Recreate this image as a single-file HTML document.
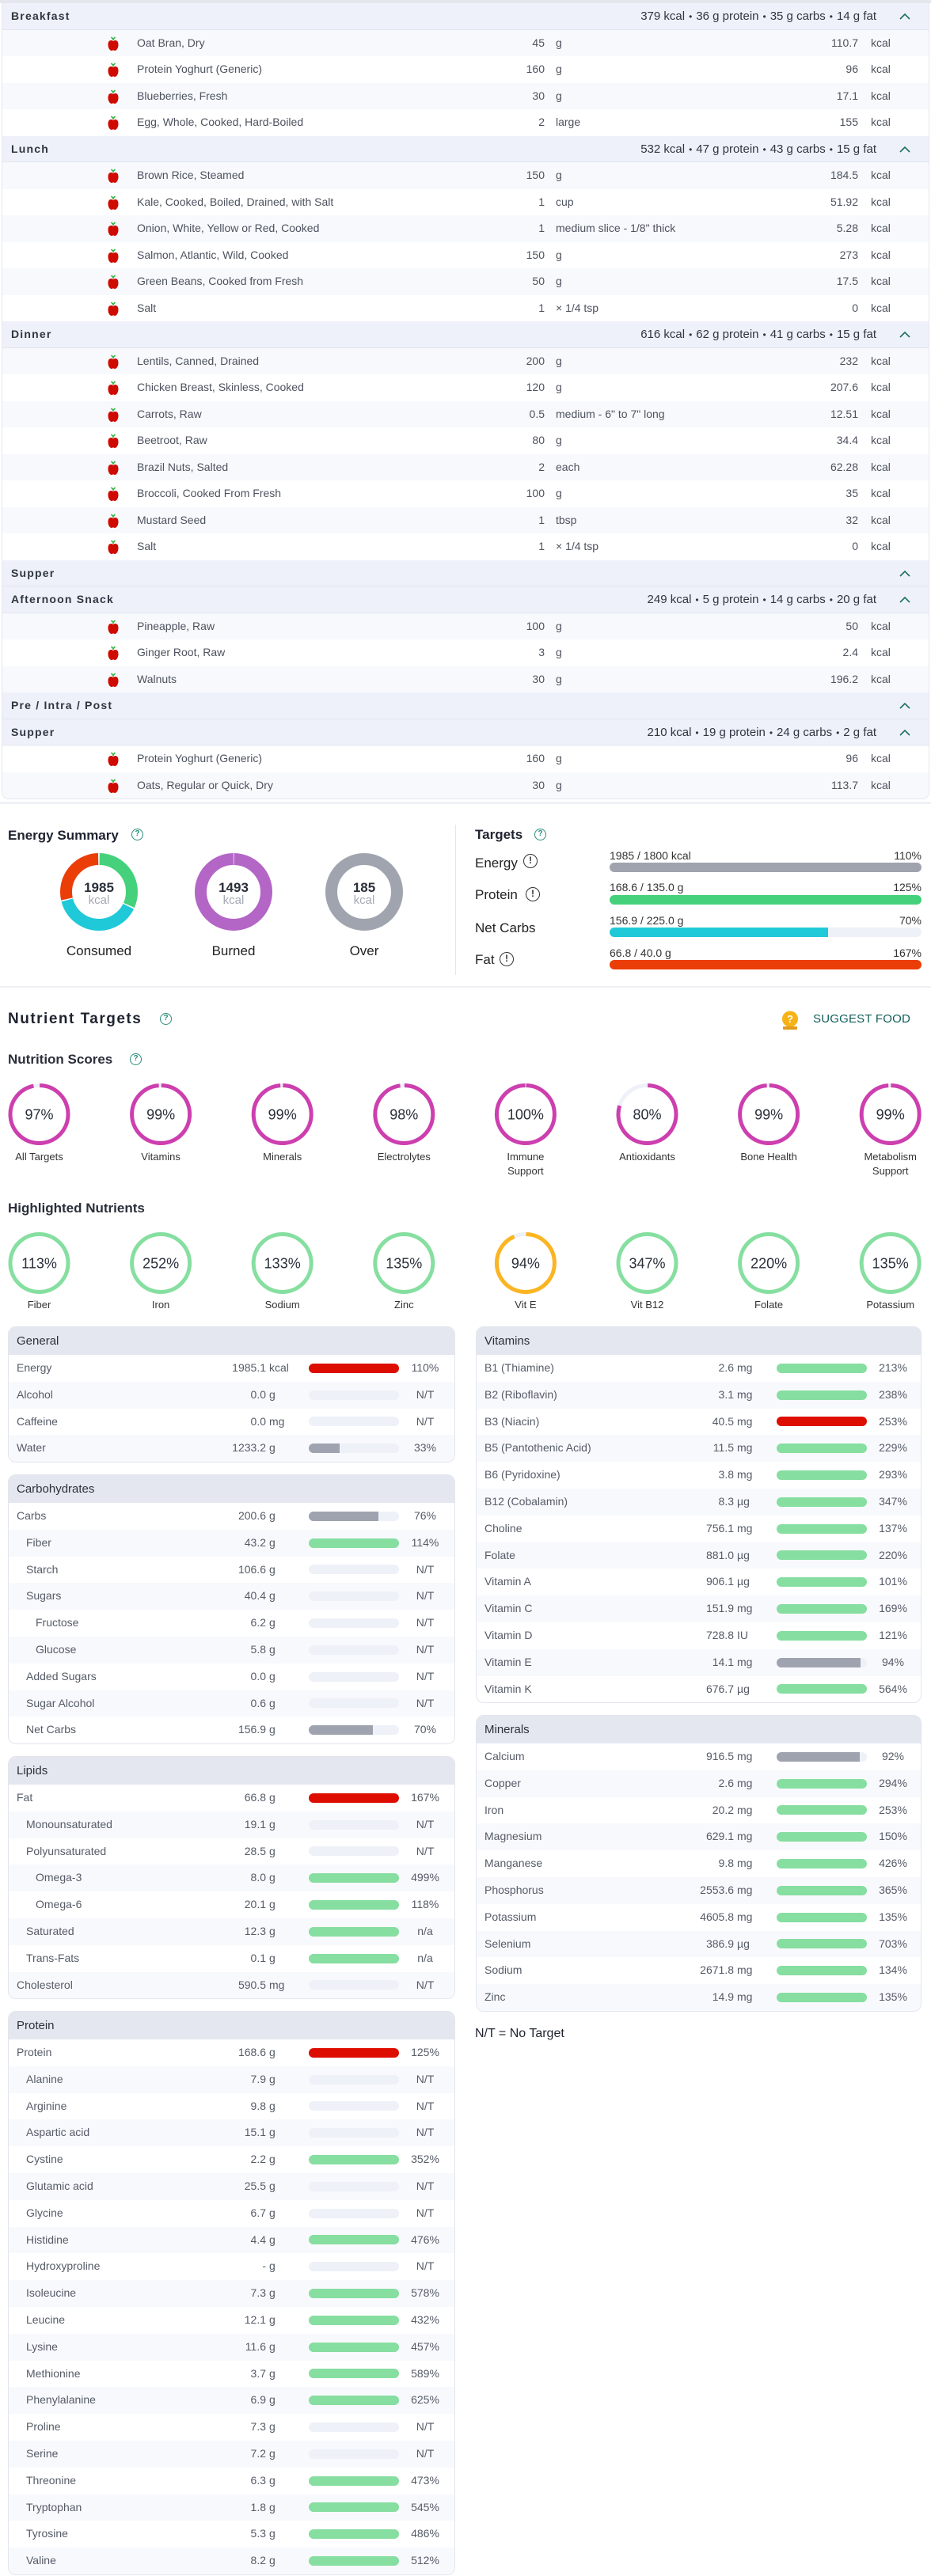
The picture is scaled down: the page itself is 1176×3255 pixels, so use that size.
<!DOCTYPE html>
<html><head><meta charset="utf-8"><style>
*{box-sizing:border-box}
body{margin:0;background:#fff}
#w{position:relative;width:1176px;height:3255px;overflow:hidden;background:#fff;font-family:"Liberation Sans",sans-serif;color:#2a2f3a}
.abs{position:absolute;white-space:nowrap}
.mc{position:absolute;left:3px;top:4px;width:1170px;border-radius:0 0 8px 8px;overflow:hidden;box-shadow:0 0 0 1px #e4e7ee}
.mh,.mi{position:relative;height:33.5px;line-height:33.5px;white-space:nowrap}
.mh{background:#eef1f9;box-shadow:inset 0 -1px 0 #e1e5ee}
.mi{background:#fff;font-size:14px;color:#4d525e}
.mi.t{background:#f7f9fd}
.mt{position:absolute;left:11px;font-weight:bold;font-size:14px;letter-spacing:1.2px;color:#2f3541}
.ms{position:absolute;right:66px;font-size:15px;color:#2f3541}
.ms b{font-weight:normal;margin:0 5px;font-size:12px}
.chev{position:absolute;left:1133px;top:12px}
.ap{position:absolute;left:132px;top:7px}
.nm{position:absolute;left:170px}
.q{position:absolute;left:585px;width:100px;text-align:right}
.u{position:absolute;left:699px}
.k{position:absolute;left:981px;width:100px;text-align:right}
.kc{position:absolute;left:1097px}
.qi{position:absolute;width:15px;height:15px;border:1.5px solid #2a8c7a;border-radius:50%;color:#2a8c7a;font-size:10px;line-height:12px;text-align:center;font-weight:bold}
.ei{position:absolute;width:18px;height:18px;border:1.5px solid #333;border-radius:50%;color:#333;font-size:12px;line-height:15px;text-align:center;font-weight:bold}
.tb{position:absolute;left:770px;width:394px;height:12px;border-radius:6px;background:#eef1f8;overflow:hidden}
.tb i{display:block;height:100%}
.card{position:absolute;border:1px solid #e2e5ed;border-radius:10px;overflow:hidden;background:#fff}
.ch{height:35px;line-height:35px;background:#e4e7f0;padding-left:10px;font-size:15px;color:#2b303b}
.r{position:relative;height:33.8px;line-height:33.8px;font-size:14px;color:#555b67;white-space:nowrap}
.r:nth-child(odd){background:#f8f9fd}
.n{position:absolute;left:10px}
.n1{left:22px}.n2{left:34px}
.v{position:absolute;left:225px;width:100px;text-align:right}
.un{position:absolute;left:329px}
.bar{position:absolute;left:379px;top:10.9px;width:114px;height:12px;border-radius:6px;background:#eef1f8;overflow:hidden}
.bar i{display:block;height:100%}
.p{position:absolute;left:501px;width:50px;text-align:center}
.sl{position:absolute;width:120px;text-align:center;font-size:13px;line-height:18px;color:#333}
</style></head><body><div id="w">

<div class="abs" style="left:0;top:0;width:1176px;height:4px;background:#e4e7ee"></div>
<div class="mc">
<div class="mh"><span class="mt">Breakfast</span><span class="ms">379 kcal<b>•</b>36 g protein<b>•</b>35 g carbs<b>•</b>14 g fat</span><svg class="chev" width="14" height="9" viewBox="0 0 14 9"><path d="M1 8L7 2L13 8" stroke="#1c6e62" stroke-width="1.6" fill="none"/></svg></div>
<div class="mi t"><svg class="ap" width="16" height="19" viewBox="0 0 16 19"><path d="M8 6V3M8 4.5L5.5 2M8 4.5L10.5 2" stroke="#3bb54a" stroke-width="1.6" fill="none"/><path d="M8 7C5 5 1.5 6 1.5 11.5C1.5 16 4 19 6 19C7 19 7.4 18.4 8 18.4C8.6 18.4 9 19 10 19C12 19 14.5 16 14.5 11.5C14.5 6 11 5 8 7Z" fill="#cf0a00"/></svg><span class="nm">Oat Bran, Dry</span><span class="q">45</span><span class="u">g</span><span class="k">110.7</span><span class="kc">kcal</span></div>
<div class="mi"><svg class="ap" width="16" height="19" viewBox="0 0 16 19"><path d="M8 6V3M8 4.5L5.5 2M8 4.5L10.5 2" stroke="#3bb54a" stroke-width="1.6" fill="none"/><path d="M8 7C5 5 1.5 6 1.5 11.5C1.5 16 4 19 6 19C7 19 7.4 18.4 8 18.4C8.6 18.4 9 19 10 19C12 19 14.5 16 14.5 11.5C14.5 6 11 5 8 7Z" fill="#cf0a00"/></svg><span class="nm">Protein Yoghurt (Generic)</span><span class="q">160</span><span class="u">g</span><span class="k">96</span><span class="kc">kcal</span></div>
<div class="mi t"><svg class="ap" width="16" height="19" viewBox="0 0 16 19"><path d="M8 6V3M8 4.5L5.5 2M8 4.5L10.5 2" stroke="#3bb54a" stroke-width="1.6" fill="none"/><path d="M8 7C5 5 1.5 6 1.5 11.5C1.5 16 4 19 6 19C7 19 7.4 18.4 8 18.4C8.6 18.4 9 19 10 19C12 19 14.5 16 14.5 11.5C14.5 6 11 5 8 7Z" fill="#cf0a00"/></svg><span class="nm">Blueberries, Fresh</span><span class="q">30</span><span class="u">g</span><span class="k">17.1</span><span class="kc">kcal</span></div>
<div class="mi"><svg class="ap" width="16" height="19" viewBox="0 0 16 19"><path d="M8 6V3M8 4.5L5.5 2M8 4.5L10.5 2" stroke="#3bb54a" stroke-width="1.6" fill="none"/><path d="M8 7C5 5 1.5 6 1.5 11.5C1.5 16 4 19 6 19C7 19 7.4 18.4 8 18.4C8.6 18.4 9 19 10 19C12 19 14.5 16 14.5 11.5C14.5 6 11 5 8 7Z" fill="#cf0a00"/></svg><span class="nm">Egg, Whole, Cooked, Hard-Boiled</span><span class="q">2</span><span class="u">large</span><span class="k">155</span><span class="kc">kcal</span></div>

<div class="mh"><span class="mt">Lunch</span><span class="ms">532 kcal<b>•</b>47 g protein<b>•</b>43 g carbs<b>•</b>15 g fat</span><svg class="chev" width="14" height="9" viewBox="0 0 14 9"><path d="M1 8L7 2L13 8" stroke="#1c6e62" stroke-width="1.6" fill="none"/></svg></div>
<div class="mi t"><svg class="ap" width="16" height="19" viewBox="0 0 16 19"><path d="M8 6V3M8 4.5L5.5 2M8 4.5L10.5 2" stroke="#3bb54a" stroke-width="1.6" fill="none"/><path d="M8 7C5 5 1.5 6 1.5 11.5C1.5 16 4 19 6 19C7 19 7.4 18.4 8 18.4C8.6 18.4 9 19 10 19C12 19 14.5 16 14.5 11.5C14.5 6 11 5 8 7Z" fill="#cf0a00"/></svg><span class="nm">Brown Rice, Steamed</span><span class="q">150</span><span class="u">g</span><span class="k">184.5</span><span class="kc">kcal</span></div>
<div class="mi"><svg class="ap" width="16" height="19" viewBox="0 0 16 19"><path d="M8 6V3M8 4.5L5.5 2M8 4.5L10.5 2" stroke="#3bb54a" stroke-width="1.6" fill="none"/><path d="M8 7C5 5 1.5 6 1.5 11.5C1.5 16 4 19 6 19C7 19 7.4 18.4 8 18.4C8.6 18.4 9 19 10 19C12 19 14.5 16 14.5 11.5C14.5 6 11 5 8 7Z" fill="#cf0a00"/></svg><span class="nm">Kale, Cooked, Boiled, Drained, with Salt</span><span class="q">1</span><span class="u">cup</span><span class="k">51.92</span><span class="kc">kcal</span></div>
<div class="mi t"><svg class="ap" width="16" height="19" viewBox="0 0 16 19"><path d="M8 6V3M8 4.5L5.5 2M8 4.5L10.5 2" stroke="#3bb54a" stroke-width="1.6" fill="none"/><path d="M8 7C5 5 1.5 6 1.5 11.5C1.5 16 4 19 6 19C7 19 7.4 18.4 8 18.4C8.6 18.4 9 19 10 19C12 19 14.5 16 14.5 11.5C14.5 6 11 5 8 7Z" fill="#cf0a00"/></svg><span class="nm">Onion, White, Yellow or Red, Cooked</span><span class="q">1</span><span class="u">medium slice - 1/8" thick</span><span class="k">5.28</span><span class="kc">kcal</span></div>
<div class="mi"><svg class="ap" width="16" height="19" viewBox="0 0 16 19"><path d="M8 6V3M8 4.5L5.5 2M8 4.5L10.5 2" stroke="#3bb54a" stroke-width="1.6" fill="none"/><path d="M8 7C5 5 1.5 6 1.5 11.5C1.5 16 4 19 6 19C7 19 7.4 18.4 8 18.4C8.6 18.4 9 19 10 19C12 19 14.5 16 14.5 11.5C14.5 6 11 5 8 7Z" fill="#cf0a00"/></svg><span class="nm">Salmon, Atlantic, Wild, Cooked</span><span class="q">150</span><span class="u">g</span><span class="k">273</span><span class="kc">kcal</span></div>
<div class="mi t"><svg class="ap" width="16" height="19" viewBox="0 0 16 19"><path d="M8 6V3M8 4.5L5.5 2M8 4.5L10.5 2" stroke="#3bb54a" stroke-width="1.6" fill="none"/><path d="M8 7C5 5 1.5 6 1.5 11.5C1.5 16 4 19 6 19C7 19 7.4 18.4 8 18.4C8.6 18.4 9 19 10 19C12 19 14.5 16 14.5 11.5C14.5 6 11 5 8 7Z" fill="#cf0a00"/></svg><span class="nm">Green Beans, Cooked from Fresh</span><span class="q">50</span><span class="u">g</span><span class="k">17.5</span><span class="kc">kcal</span></div>
<div class="mi"><svg class="ap" width="16" height="19" viewBox="0 0 16 19"><path d="M8 6V3M8 4.5L5.5 2M8 4.5L10.5 2" stroke="#3bb54a" stroke-width="1.6" fill="none"/><path d="M8 7C5 5 1.5 6 1.5 11.5C1.5 16 4 19 6 19C7 19 7.4 18.4 8 18.4C8.6 18.4 9 19 10 19C12 19 14.5 16 14.5 11.5C14.5 6 11 5 8 7Z" fill="#cf0a00"/></svg><span class="nm">Salt</span><span class="q">1</span><span class="u">× 1/4 tsp</span><span class="k">0</span><span class="kc">kcal</span></div>

<div class="mh"><span class="mt">Dinner</span><span class="ms">616 kcal<b>•</b>62 g protein<b>•</b>41 g carbs<b>•</b>15 g fat</span><svg class="chev" width="14" height="9" viewBox="0 0 14 9"><path d="M1 8L7 2L13 8" stroke="#1c6e62" stroke-width="1.6" fill="none"/></svg></div>
<div class="mi t"><svg class="ap" width="16" height="19" viewBox="0 0 16 19"><path d="M8 6V3M8 4.5L5.5 2M8 4.5L10.5 2" stroke="#3bb54a" stroke-width="1.6" fill="none"/><path d="M8 7C5 5 1.5 6 1.5 11.5C1.5 16 4 19 6 19C7 19 7.4 18.4 8 18.4C8.6 18.4 9 19 10 19C12 19 14.5 16 14.5 11.5C14.5 6 11 5 8 7Z" fill="#cf0a00"/></svg><span class="nm">Lentils, Canned, Drained</span><span class="q">200</span><span class="u">g</span><span class="k">232</span><span class="kc">kcal</span></div>
<div class="mi"><svg class="ap" width="16" height="19" viewBox="0 0 16 19"><path d="M8 6V3M8 4.5L5.5 2M8 4.5L10.5 2" stroke="#3bb54a" stroke-width="1.6" fill="none"/><path d="M8 7C5 5 1.5 6 1.5 11.5C1.5 16 4 19 6 19C7 19 7.4 18.4 8 18.4C8.6 18.4 9 19 10 19C12 19 14.5 16 14.5 11.5C14.5 6 11 5 8 7Z" fill="#cf0a00"/></svg><span class="nm">Chicken Breast, Skinless, Cooked</span><span class="q">120</span><span class="u">g</span><span class="k">207.6</span><span class="kc">kcal</span></div>
<div class="mi t"><svg class="ap" width="16" height="19" viewBox="0 0 16 19"><path d="M8 6V3M8 4.5L5.5 2M8 4.5L10.5 2" stroke="#3bb54a" stroke-width="1.6" fill="none"/><path d="M8 7C5 5 1.5 6 1.5 11.5C1.5 16 4 19 6 19C7 19 7.4 18.4 8 18.4C8.6 18.4 9 19 10 19C12 19 14.5 16 14.5 11.5C14.5 6 11 5 8 7Z" fill="#cf0a00"/></svg><span class="nm">Carrots, Raw</span><span class="q">0.5</span><span class="u">medium - 6" to 7" long</span><span class="k">12.51</span><span class="kc">kcal</span></div>
<div class="mi"><svg class="ap" width="16" height="19" viewBox="0 0 16 19"><path d="M8 6V3M8 4.5L5.5 2M8 4.5L10.5 2" stroke="#3bb54a" stroke-width="1.6" fill="none"/><path d="M8 7C5 5 1.5 6 1.5 11.5C1.5 16 4 19 6 19C7 19 7.4 18.4 8 18.4C8.6 18.4 9 19 10 19C12 19 14.5 16 14.5 11.5C14.5 6 11 5 8 7Z" fill="#cf0a00"/></svg><span class="nm">Beetroot, Raw</span><span class="q">80</span><span class="u">g</span><span class="k">34.4</span><span class="kc">kcal</span></div>
<div class="mi t"><svg class="ap" width="16" height="19" viewBox="0 0 16 19"><path d="M8 6V3M8 4.5L5.5 2M8 4.5L10.5 2" stroke="#3bb54a" stroke-width="1.6" fill="none"/><path d="M8 7C5 5 1.5 6 1.5 11.5C1.5 16 4 19 6 19C7 19 7.4 18.4 8 18.4C8.6 18.4 9 19 10 19C12 19 14.5 16 14.5 11.5C14.5 6 11 5 8 7Z" fill="#cf0a00"/></svg><span class="nm">Brazil Nuts, Salted</span><span class="q">2</span><span class="u">each</span><span class="k">62.28</span><span class="kc">kcal</span></div>
<div class="mi"><svg class="ap" width="16" height="19" viewBox="0 0 16 19"><path d="M8 6V3M8 4.5L5.5 2M8 4.5L10.5 2" stroke="#3bb54a" stroke-width="1.6" fill="none"/><path d="M8 7C5 5 1.5 6 1.5 11.5C1.5 16 4 19 6 19C7 19 7.4 18.4 8 18.4C8.6 18.4 9 19 10 19C12 19 14.5 16 14.5 11.5C14.5 6 11 5 8 7Z" fill="#cf0a00"/></svg><span class="nm">Broccoli, Cooked From Fresh</span><span class="q">100</span><span class="u">g</span><span class="k">35</span><span class="kc">kcal</span></div>
<div class="mi t"><svg class="ap" width="16" height="19" viewBox="0 0 16 19"><path d="M8 6V3M8 4.5L5.5 2M8 4.5L10.5 2" stroke="#3bb54a" stroke-width="1.6" fill="none"/><path d="M8 7C5 5 1.5 6 1.5 11.5C1.5 16 4 19 6 19C7 19 7.4 18.4 8 18.4C8.6 18.4 9 19 10 19C12 19 14.5 16 14.5 11.5C14.5 6 11 5 8 7Z" fill="#cf0a00"/></svg><span class="nm">Mustard Seed</span><span class="q">1</span><span class="u">tbsp</span><span class="k">32</span><span class="kc">kcal</span></div>
<div class="mi"><svg class="ap" width="16" height="19" viewBox="0 0 16 19"><path d="M8 6V3M8 4.5L5.5 2M8 4.5L10.5 2" stroke="#3bb54a" stroke-width="1.6" fill="none"/><path d="M8 7C5 5 1.5 6 1.5 11.5C1.5 16 4 19 6 19C7 19 7.4 18.4 8 18.4C8.6 18.4 9 19 10 19C12 19 14.5 16 14.5 11.5C14.5 6 11 5 8 7Z" fill="#cf0a00"/></svg><span class="nm">Salt</span><span class="q">1</span><span class="u">× 1/4 tsp</span><span class="k">0</span><span class="kc">kcal</span></div>

<div class="mh"><span class="mt">Supper</span><svg class="chev" width="14" height="9" viewBox="0 0 14 9"><path d="M1 8L7 2L13 8" stroke="#1c6e62" stroke-width="1.6" fill="none"/></svg></div>
<div class="mh"><span class="mt">Afternoon Snack</span><span class="ms">249 kcal<b>•</b>5 g protein<b>•</b>14 g carbs<b>•</b>20 g fat</span><svg class="chev" width="14" height="9" viewBox="0 0 14 9"><path d="M1 8L7 2L13 8" stroke="#1c6e62" stroke-width="1.6" fill="none"/></svg></div>
<div class="mi t"><svg class="ap" width="16" height="19" viewBox="0 0 16 19"><path d="M8 6V3M8 4.5L5.5 2M8 4.5L10.5 2" stroke="#3bb54a" stroke-width="1.6" fill="none"/><path d="M8 7C5 5 1.5 6 1.5 11.5C1.5 16 4 19 6 19C7 19 7.4 18.4 8 18.4C8.6 18.4 9 19 10 19C12 19 14.5 16 14.5 11.5C14.5 6 11 5 8 7Z" fill="#cf0a00"/></svg><span class="nm">Pineapple, Raw</span><span class="q">100</span><span class="u">g</span><span class="k">50</span><span class="kc">kcal</span></div>
<div class="mi"><svg class="ap" width="16" height="19" viewBox="0 0 16 19"><path d="M8 6V3M8 4.5L5.5 2M8 4.5L10.5 2" stroke="#3bb54a" stroke-width="1.6" fill="none"/><path d="M8 7C5 5 1.5 6 1.5 11.5C1.5 16 4 19 6 19C7 19 7.4 18.4 8 18.4C8.6 18.4 9 19 10 19C12 19 14.5 16 14.5 11.5C14.5 6 11 5 8 7Z" fill="#cf0a00"/></svg><span class="nm">Ginger Root, Raw</span><span class="q">3</span><span class="u">g</span><span class="k">2.4</span><span class="kc">kcal</span></div>
<div class="mi t"><svg class="ap" width="16" height="19" viewBox="0 0 16 19"><path d="M8 6V3M8 4.5L5.5 2M8 4.5L10.5 2" stroke="#3bb54a" stroke-width="1.6" fill="none"/><path d="M8 7C5 5 1.5 6 1.5 11.5C1.5 16 4 19 6 19C7 19 7.4 18.4 8 18.4C8.6 18.4 9 19 10 19C12 19 14.5 16 14.5 11.5C14.5 6 11 5 8 7Z" fill="#cf0a00"/></svg><span class="nm">Walnuts</span><span class="q">30</span><span class="u">g</span><span class="k">196.2</span><span class="kc">kcal</span></div>
<div class="mh"><span class="mt">Pre / Intra / Post</span><svg class="chev" width="14" height="9" viewBox="0 0 14 9"><path d="M1 8L7 2L13 8" stroke="#1c6e62" stroke-width="1.6" fill="none"/></svg></div>
<div class="mh"><span class="mt">Supper</span><span class="ms">210 kcal<b>•</b>19 g protein<b>•</b>24 g carbs<b>•</b>2 g fat</span><svg class="chev" width="14" height="9" viewBox="0 0 14 9"><path d="M1 8L7 2L13 8" stroke="#1c6e62" stroke-width="1.6" fill="none"/></svg></div>
<div class="mi"><svg class="ap" width="16" height="19" viewBox="0 0 16 19"><path d="M8 6V3M8 4.5L5.5 2M8 4.5L10.5 2" stroke="#3bb54a" stroke-width="1.6" fill="none"/><path d="M8 7C5 5 1.5 6 1.5 11.5C1.5 16 4 19 6 19C7 19 7.4 18.4 8 18.4C8.6 18.4 9 19 10 19C12 19 14.5 16 14.5 11.5C14.5 6 11 5 8 7Z" fill="#cf0a00"/></svg><span class="nm">Protein Yoghurt (Generic)</span><span class="q">160</span><span class="u">g</span><span class="k">96</span><span class="kc">kcal</span></div>
<div class="mi t"><svg class="ap" width="16" height="19" viewBox="0 0 16 19"><path d="M8 6V3M8 4.5L5.5 2M8 4.5L10.5 2" stroke="#3bb54a" stroke-width="1.6" fill="none"/><path d="M8 7C5 5 1.5 6 1.5 11.5C1.5 16 4 19 6 19C7 19 7.4 18.4 8 18.4C8.6 18.4 9 19 10 19C12 19 14.5 16 14.5 11.5C14.5 6 11 5 8 7Z" fill="#cf0a00"/></svg><span class="nm">Oats, Regular or Quick, Dry</span><span class="q">30</span><span class="u">g</span><span class="k">113.7</span><span class="kc">kcal</span></div>
</div>
<div class="abs" style="left:0;top:1013px;width:1176px;height:3px;background:#eff1f6"></div>

<!-- Energy summary -->
<div class="abs" style="left:10px;top:1044px;font-size:17px;line-height:24px;font-weight:bold;color:#1e2330">Energy Summary</div>
<div class="qi" style="left:166px;top:1047px">?</div>
<svg class="abs" style="left:75px;top:1077px" width="100" height="100" viewBox="0 0 100 100"><g transform="rotate(-90 50 50)" fill="none" stroke-width="15">
<circle cx="50" cy="50" r="41.5" stroke="#45d17b" stroke-dasharray="81.8 300" stroke-dashoffset="-0.72"/>
<circle cx="50" cy="50" r="41.5" stroke="#1fc9d8" stroke-dasharray="100.7 300" stroke-dashoffset="-84.0"/>
<circle cx="50" cy="50" r="41.5" stroke="#eb3d08" stroke-dasharray="73.2 300" stroke-dashoffset="-186.2"/></g></svg>
<svg class="abs" style="left:245px;top:1077px" width="100" height="100" viewBox="0 0 100 100"><g transform="rotate(-90 50 50)" fill="none" stroke-width="15">
<circle cx="50" cy="50" r="41.5" stroke="#b366c6" stroke-dasharray="259.6 300" stroke-dashoffset="-0.6"/></g></svg>
<svg class="abs" style="left:410px;top:1077px" width="100" height="100" viewBox="0 0 100 100"><circle cx="50" cy="50" r="41.5" fill="none" stroke="#a0a4ae" stroke-width="15"/></svg>
<div class="abs" style="left:75px;width:100px;text-align:center;top:1112px;font-size:17px;line-height:20px;font-weight:bold;color:#2a2f3a">1985</div>
<div class="abs" style="left:75px;width:100px;text-align:center;top:1129px;font-size:15px;line-height:18px;color:#a5a9b4">kcal</div>
<div class="abs" style="left:245px;width:100px;text-align:center;top:1112px;font-size:17px;line-height:20px;font-weight:bold;color:#2a2f3a">1493</div>
<div class="abs" style="left:245px;width:100px;text-align:center;top:1129px;font-size:15px;line-height:18px;color:#a5a9b4">kcal</div>
<div class="abs" style="left:410px;width:100px;text-align:center;top:1112px;font-size:17px;line-height:20px;font-weight:bold;color:#2a2f3a">185</div>
<div class="abs" style="left:410px;width:100px;text-align:center;top:1129px;font-size:15px;line-height:18px;color:#a5a9b4">kcal</div>
<div class="abs" style="left:65px;width:120px;text-align:center;top:1191px;font-size:17px;line-height:22px;color:#222">Consumed</div>
<div class="abs" style="left:235px;width:120px;text-align:center;top:1191px;font-size:17px;line-height:22px;color:#222">Burned</div>
<div class="abs" style="left:400px;width:120px;text-align:center;top:1191px;font-size:17px;line-height:22px;color:#222">Over</div>
<div class="abs" style="left:575px;top:1042px;width:1px;height:190px;background:#e3e6ec"></div>

<div class="abs" style="left:600px;top:1043px;font-size:17px;line-height:24px;font-weight:bold;color:#1e2330">Targets</div>
<div class="qi" style="left:675px;top:1047px">?</div>
<div class="abs" style="left:600px;top:1080px;font-size:17px;line-height:22px;color:#222">Energy</div>
<div class="ei" style="left:661px;top:1079px">!</div>
<div class="abs" style="left:600px;top:1120px;font-size:17px;line-height:22px;color:#222">Protein</div>
<div class="ei" style="left:664px;top:1121px">!</div>
<div class="abs" style="left:600px;top:1162px;font-size:17px;line-height:22px;color:#222">Net Carbs</div>
<div class="abs" style="left:600px;top:1202px;font-size:17px;line-height:22px;color:#222">Fat</div>
<div class="ei" style="left:631px;top:1203px">!</div>
<div class="abs" style="left:770px;top:1072px;font-size:14px;line-height:18px;color:#333">1985 / 1800 kcal</div>
<div class="abs" style="left:1064px;width:100px;text-align:right;top:1072px;font-size:14px;line-height:18px;color:#333">110%</div>
<div class="tb" style="top:1090px"><i style="width:100%;background:#9fa3ad"></i></div>
<div class="abs" style="left:770px;top:1112px;font-size:14px;line-height:18px;color:#333">168.6 / 135.0 g</div>
<div class="abs" style="left:1064px;width:100px;text-align:right;top:1112px;font-size:14px;line-height:18px;color:#333">125%</div>
<div class="tb" style="top:1131px"><i style="width:100%;background:#45d17b"></i></div>
<div class="abs" style="left:770px;top:1154px;font-size:14px;line-height:18px;color:#333">156.9 / 225.0 g</div>
<div class="abs" style="left:1064px;width:100px;text-align:right;top:1154px;font-size:14px;line-height:18px;color:#333">70%</div>
<div class="tb" style="top:1172px"><i style="width:70%;background:#1fc9d8"></i></div>
<div class="abs" style="left:770px;top:1195px;font-size:14px;line-height:18px;color:#333">66.8 / 40.0 g</div>
<div class="abs" style="left:1064px;width:100px;text-align:right;top:1195px;font-size:14px;line-height:18px;color:#333">167%</div>
<div class="tb" style="top:1213px"><i style="width:100%;background:#eb3d08"></i></div>
<div class="abs" style="left:0;top:1246px;width:1176px;height:2px;background:#eef0f6"></div>

<!-- Nutrient targets -->
<div class="abs" style="left:10px;top:1275px;font-size:19px;line-height:26px;font-weight:bold;letter-spacing:1.5px;color:#1e2330">Nutrient Targets</div>
<div class="qi" style="left:202px;top:1280px">?</div>
<svg class="abs" style="left:986px;top:1277px" width="24" height="25" viewBox="0 0 24 25"><circle cx="12" cy="10.5" r="10" fill="#f7b215"/><rect x="3" y="20" width="18" height="4" rx="1" fill="#e39a1e"/><text x="12" y="15" text-anchor="middle" font-size="13" font-weight="bold" fill="#fff" font-family="Liberation Sans, sans-serif">?</text></svg>
<div class="abs" style="left:1027px;top:1278px;font-size:15px;line-height:20px;color:#0f5e5a;letter-spacing:0.2px">SUGGEST FOOD</div>

<div class="abs" style="left:10px;top:1327px;font-size:17px;line-height:24px;font-weight:bold;color:#2a2f3a">Nutrition Scores</div>
<div class="qi" style="left:164px;top:1331px">?</div>

<svg class="abs" style="left:0;top:1360px" width="1176" height="100" viewBox="0 0 1176 100" font-family="Liberation Sans, sans-serif">
<g fill="none" stroke-width="5">
<circle cx="49.5" cy="48" r="36.5" stroke="#eef1f8"/><circle cx="203.1" cy="48" r="36.5" stroke="#eef1f8"/><circle cx="356.7" cy="48" r="36.5" stroke="#eef1f8"/><circle cx="510.3" cy="48" r="36.5" stroke="#eef1f8"/><circle cx="663.9" cy="48" r="36.5" stroke="#eef1f8"/><circle cx="817.5" cy="48" r="36.5" stroke="#eef1f8"/><circle cx="971.1" cy="48" r="36.5" stroke="#eef1f8"/><circle cx="1124.7" cy="48" r="36.5" stroke="#eef1f8"/>
<circle cx="49.5" cy="48" r="36.5" stroke="#cd3fae" stroke-dasharray="221.2 300" stroke-dashoffset="-0.64" transform="rotate(-90 49.5 48)"/>
<circle cx="203.1" cy="48" r="36.5" stroke="#cd3fae" stroke-dasharray="225.8 300" stroke-dashoffset="-0.64" transform="rotate(-90 203.1 48)"/>
<circle cx="356.7" cy="48" r="36.5" stroke="#cd3fae" stroke-dasharray="225.8 300" stroke-dashoffset="-0.64" transform="rotate(-90 356.7 48)"/>
<circle cx="510.3" cy="48" r="36.5" stroke="#cd3fae" stroke-dasharray="223.5 300" stroke-dashoffset="-0.64" transform="rotate(-90 510.3 48)"/>
<circle cx="663.9" cy="48" r="36.5" stroke="#cd3fae" stroke-dasharray="228.0 300" stroke-dashoffset="-0.64" transform="rotate(-90 663.9 48)"/>
<circle cx="817.5" cy="48" r="36.5" stroke="#cd3fae" stroke-dasharray="182.2 300" stroke-dashoffset="-0.64" transform="rotate(-90 817.5 48)"/>
<circle cx="971.1" cy="48" r="36.5" stroke="#cd3fae" stroke-dasharray="225.8 300" stroke-dashoffset="-0.64" transform="rotate(-90 971.1 48)"/>
<circle cx="1124.7" cy="48" r="36.5" stroke="#cd3fae" stroke-dasharray="225.8 300" stroke-dashoffset="-0.64" transform="rotate(-90 1124.7 48)"/>
</g>
<g font-size="18" fill="#2a2f3a" text-anchor="middle">
<text x="49.5" y="54.5">97%</text><text x="203.1" y="54.5">99%</text><text x="356.7" y="54.5">99%</text><text x="510.3" y="54.5">98%</text><text x="663.9" y="54.5">100%</text><text x="817.5" y="54.5">80%</text><text x="971.1" y="54.5">99%</text><text x="1124.7" y="54.5">99%</text>
</g></svg>
<div class="sl" style="left:-10.5px;top:1453px">All Targets</div>
<div class="sl" style="left:143.1px;top:1453px">Vitamins</div>
<div class="sl" style="left:296.7px;top:1453px">Minerals</div>
<div class="sl" style="left:450.3px;top:1453px">Electrolytes</div>
<div class="sl" style="left:603.9px;top:1453px">Immune<br>Support</div>
<div class="sl" style="left:757.5px;top:1453px">Antioxidants</div>
<div class="sl" style="left:911.1px;top:1453px">Bone Health</div>
<div class="sl" style="left:1064.7px;top:1453px">Metabolism<br>Support</div>

<div class="abs" style="left:10px;top:1515px;font-size:17px;line-height:24px;font-weight:bold;color:#2a2f3a">Highlighted Nutrients</div>
<svg class="abs" style="left:0;top:1548px" width="1176" height="100" viewBox="0 0 1176 100" font-family="Liberation Sans, sans-serif">
<g fill="none" stroke-width="5">
<circle cx="49.5" cy="48" r="36.5" stroke="#86dfa0"/><circle cx="203.1" cy="48" r="36.5" stroke="#86dfa0"/><circle cx="356.7" cy="48" r="36.5" stroke="#86dfa0"/><circle cx="510.3" cy="48" r="36.5" stroke="#86dfa0"/>
<circle cx="663.9" cy="48" r="36.5" stroke="#eef1f8"/>
<circle cx="663.9" cy="48" r="36.5" stroke="#fbb522" stroke-dasharray="213.7 300" stroke-dashoffset="-0.64" transform="rotate(-90 663.9 48)"/>
<circle cx="817.5" cy="48" r="36.5" stroke="#86dfa0"/><circle cx="971.1" cy="48" r="36.5" stroke="#86dfa0"/><circle cx="1124.7" cy="48" r="36.5" stroke="#86dfa0"/>
</g>
<g font-size="18" fill="#2a2f3a" text-anchor="middle">
<text x="49.5" y="54.5">113%</text><text x="203.1" y="54.5">252%</text><text x="356.7" y="54.5">133%</text><text x="510.3" y="54.5">135%</text><text x="663.9" y="54.5">94%</text><text x="817.5" y="54.5">347%</text><text x="971.1" y="54.5">220%</text><text x="1124.7" y="54.5">135%</text>
</g></svg>
<div class="sl" style="left:-10.5px;top:1640px">Fiber</div>
<div class="sl" style="left:143.1px;top:1640px">Iron</div>
<div class="sl" style="left:296.7px;top:1640px">Sodium</div>
<div class="sl" style="left:450.3px;top:1640px">Zinc</div>
<div class="sl" style="left:603.9px;top:1640px">Vit E</div>
<div class="sl" style="left:757.5px;top:1640px">Vit B12</div>
<div class="sl" style="left:911.1px;top:1640px">Folate</div>
<div class="sl" style="left:1064.7px;top:1640px">Potassium</div>

<!-- General -->
<div class="card" style="left:10px;top:1676px;width:565px">
<div class="ch">General</div>
<div class="r"><span class="n">Energy</span><span class="v">1985.1</span><span class="un">kcal</span><span class="bar"><i style="width:100%;background:#dd0d00"></i></span><span class="p">110%</span></div>
<div class="r"><span class="n">Alcohol</span><span class="v">0.0</span><span class="un">g</span><span class="bar"></span><span class="p">N/T</span></div>
<div class="r"><span class="n">Caffeine</span><span class="v">0.0</span><span class="un">mg</span><span class="bar"></span><span class="p">N/T</span></div>
<div class="r"><span class="n">Water</span><span class="v">1233.2</span><span class="un">g</span><span class="bar"><i style="width:34%;background:#9ea3af"></i></span><span class="p">33%</span></div>
</div>

<!-- Carbohydrates -->
<div class="card" style="left:10px;top:1863px;width:565px">
<div class="ch">Carbohydrates</div>
<div class="r"><span class="n">Carbs</span><span class="v">200.6</span><span class="un">g</span><span class="bar"><i style="width:77%;background:#9ea3af"></i></span><span class="p">76%</span></div>
<div class="r"><span class="n n1">Fiber</span><span class="v">43.2</span><span class="un">g</span><span class="bar"><i style="width:100%;background:#86dea0"></i></span><span class="p">114%</span></div>
<div class="r"><span class="n n1">Starch</span><span class="v">106.6</span><span class="un">g</span><span class="bar"></span><span class="p">N/T</span></div>
<div class="r"><span class="n n1">Sugars</span><span class="v">40.4</span><span class="un">g</span><span class="bar"></span><span class="p">N/T</span></div>
<div class="r"><span class="n n2">Fructose</span><span class="v">6.2</span><span class="un">g</span><span class="bar"></span><span class="p">N/T</span></div>
<div class="r"><span class="n n2">Glucose</span><span class="v">5.8</span><span class="un">g</span><span class="bar"></span><span class="p">N/T</span></div>
<div class="r"><span class="n n1">Added Sugars</span><span class="v">0.0</span><span class="un">g</span><span class="bar"></span><span class="p">N/T</span></div>
<div class="r"><span class="n n1">Sugar Alcohol</span><span class="v">0.6</span><span class="un">g</span><span class="bar"></span><span class="p">N/T</span></div>
<div class="r"><span class="n n1">Net Carbs</span><span class="v">156.9</span><span class="un">g</span><span class="bar"><i style="width:71%;background:#9ea3af"></i></span><span class="p">70%</span></div>
</div>

<!-- Lipids -->
<div class="card" style="left:10px;top:2219px;width:565px">
<div class="ch">Lipids</div>
<div class="r"><span class="n">Fat</span><span class="v">66.8</span><span class="un">g</span><span class="bar"><i style="width:100%;background:#dd0d00"></i></span><span class="p">167%</span></div>
<div class="r"><span class="n n1">Monounsaturated</span><span class="v">19.1</span><span class="un">g</span><span class="bar"></span><span class="p">N/T</span></div>
<div class="r"><span class="n n1">Polyunsaturated</span><span class="v">28.5</span><span class="un">g</span><span class="bar"></span><span class="p">N/T</span></div>
<div class="r"><span class="n n2">Omega-3</span><span class="v">8.0</span><span class="un">g</span><span class="bar"><i style="width:100%;background:#86dea0"></i></span><span class="p">499%</span></div>
<div class="r"><span class="n n2">Omega-6</span><span class="v">20.1</span><span class="un">g</span><span class="bar"><i style="width:100%;background:#86dea0"></i></span><span class="p">118%</span></div>
<div class="r"><span class="n n1">Saturated</span><span class="v">12.3</span><span class="un">g</span><span class="bar"><i style="width:100%;background:#86dea0"></i></span><span class="p">n/a</span></div>
<div class="r"><span class="n n1">Trans-Fats</span><span class="v">0.1</span><span class="un">g</span><span class="bar"><i style="width:100%;background:#86dea0"></i></span><span class="p">n/a</span></div>
<div class="r"><span class="n">Cholesterol</span><span class="v">590.5</span><span class="un">mg</span><span class="bar"></span><span class="p">N/T</span></div>
</div>

<!-- Protein -->
<div class="card" style="left:10px;top:2541px;width:565px">
<div class="ch">Protein</div>
<div class="r"><span class="n">Protein</span><span class="v">168.6</span><span class="un">g</span><span class="bar"><i style="width:100%;background:#dd0d00"></i></span><span class="p">125%</span></div>
<div class="r"><span class="n n1">Alanine</span><span class="v">7.9</span><span class="un">g</span><span class="bar"></span><span class="p">N/T</span></div>
<div class="r"><span class="n n1">Arginine</span><span class="v">9.8</span><span class="un">g</span><span class="bar"></span><span class="p">N/T</span></div>
<div class="r"><span class="n n1">Aspartic acid</span><span class="v">15.1</span><span class="un">g</span><span class="bar"></span><span class="p">N/T</span></div>
<div class="r"><span class="n n1">Cystine</span><span class="v">2.2</span><span class="un">g</span><span class="bar"><i style="width:100%;background:#86dea0"></i></span><span class="p">352%</span></div>
<div class="r"><span class="n n1">Glutamic acid</span><span class="v">25.5</span><span class="un">g</span><span class="bar"></span><span class="p">N/T</span></div>
<div class="r"><span class="n n1">Glycine</span><span class="v">6.7</span><span class="un">g</span><span class="bar"></span><span class="p">N/T</span></div>
<div class="r"><span class="n n1">Histidine</span><span class="v">4.4</span><span class="un">g</span><span class="bar"><i style="width:100%;background:#86dea0"></i></span><span class="p">476%</span></div>
<div class="r"><span class="n n1">Hydroxyproline</span><span class="v">-</span><span class="un">g</span><span class="bar"></span><span class="p">N/T</span></div>
<div class="r"><span class="n n1">Isoleucine</span><span class="v">7.3</span><span class="un">g</span><span class="bar"><i style="width:100%;background:#86dea0"></i></span><span class="p">578%</span></div>
<div class="r"><span class="n n1">Leucine</span><span class="v">12.1</span><span class="un">g</span><span class="bar"><i style="width:100%;background:#86dea0"></i></span><span class="p">432%</span></div>
<div class="r"><span class="n n1">Lysine</span><span class="v">11.6</span><span class="un">g</span><span class="bar"><i style="width:100%;background:#86dea0"></i></span><span class="p">457%</span></div>
<div class="r"><span class="n n1">Methionine</span><span class="v">3.7</span><span class="un">g</span><span class="bar"><i style="width:100%;background:#86dea0"></i></span><span class="p">589%</span></div>
<div class="r"><span class="n n1">Phenylalanine</span><span class="v">6.9</span><span class="un">g</span><span class="bar"><i style="width:100%;background:#86dea0"></i></span><span class="p">625%</span></div>
<div class="r"><span class="n n1">Proline</span><span class="v">7.3</span><span class="un">g</span><span class="bar"></span><span class="p">N/T</span></div>
<div class="r"><span class="n n1">Serine</span><span class="v">7.2</span><span class="un">g</span><span class="bar"></span><span class="p">N/T</span></div>
<div class="r"><span class="n n1">Threonine</span><span class="v">6.3</span><span class="un">g</span><span class="bar"><i style="width:100%;background:#86dea0"></i></span><span class="p">473%</span></div>
<div class="r"><span class="n n1">Tryptophan</span><span class="v">1.8</span><span class="un">g</span><span class="bar"><i style="width:100%;background:#86dea0"></i></span><span class="p">545%</span></div>
<div class="r"><span class="n n1">Tyrosine</span><span class="v">5.3</span><span class="un">g</span><span class="bar"><i style="width:100%;background:#86dea0"></i></span><span class="p">486%</span></div>
<div class="r"><span class="n n1">Valine</span><span class="v">8.2</span><span class="un">g</span><span class="bar"><i style="width:100%;background:#86dea0"></i></span><span class="p">512%</span></div>
</div>

<!-- Vitamins -->
<div class="card" style="left:601px;top:1676px;width:563px">
<div class="ch">Vitamins</div>
<div class="r"><span class="n">B1 (Thiamine)</span><span class="v">2.6</span><span class="un">mg</span><span class="bar"><i style="width:100%;background:#86dea0"></i></span><span class="p">213%</span></div>
<div class="r"><span class="n">B2 (Riboflavin)</span><span class="v">3.1</span><span class="un">mg</span><span class="bar"><i style="width:100%;background:#86dea0"></i></span><span class="p">238%</span></div>
<div class="r"><span class="n">B3 (Niacin)</span><span class="v">40.5</span><span class="un">mg</span><span class="bar"><i style="width:100%;background:#dd0d00"></i></span><span class="p">253%</span></div>
<div class="r"><span class="n">B5 (Pantothenic Acid)</span><span class="v">11.5</span><span class="un">mg</span><span class="bar"><i style="width:100%;background:#86dea0"></i></span><span class="p">229%</span></div>
<div class="r"><span class="n">B6 (Pyridoxine)</span><span class="v">3.8</span><span class="un">mg</span><span class="bar"><i style="width:100%;background:#86dea0"></i></span><span class="p">293%</span></div>
<div class="r"><span class="n">B12 (Cobalamin)</span><span class="v">8.3</span><span class="un">µg</span><span class="bar"><i style="width:100%;background:#86dea0"></i></span><span class="p">347%</span></div>
<div class="r"><span class="n">Choline</span><span class="v">756.1</span><span class="un">mg</span><span class="bar"><i style="width:100%;background:#86dea0"></i></span><span class="p">137%</span></div>
<div class="r"><span class="n">Folate</span><span class="v">881.0</span><span class="un">µg</span><span class="bar"><i style="width:100%;background:#86dea0"></i></span><span class="p">220%</span></div>
<div class="r"><span class="n">Vitamin A</span><span class="v">906.1</span><span class="un">µg</span><span class="bar"><i style="width:100%;background:#86dea0"></i></span><span class="p">101%</span></div>
<div class="r"><span class="n">Vitamin C</span><span class="v">151.9</span><span class="un">mg</span><span class="bar"><i style="width:100%;background:#86dea0"></i></span><span class="p">169%</span></div>
<div class="r"><span class="n">Vitamin D</span><span class="v">728.8</span><span class="un">IU</span><span class="bar"><i style="width:100%;background:#86dea0"></i></span><span class="p">121%</span></div>
<div class="r"><span class="n">Vitamin E</span><span class="v">14.1</span><span class="un">mg</span><span class="bar"><i style="width:93%;background:#9ea3af"></i></span><span class="p">94%</span></div>
<div class="r"><span class="n">Vitamin K</span><span class="v">676.7</span><span class="un">µg</span><span class="bar"><i style="width:100%;background:#86dea0"></i></span><span class="p">564%</span></div>
</div>

<!-- Minerals -->
<div class="card" style="left:601px;top:2167px;width:563px">
<div class="ch">Minerals</div>
<div class="r"><span class="n">Calcium</span><span class="v">916.5</span><span class="un">mg</span><span class="bar"><i style="width:92%;background:#9ea3af"></i></span><span class="p">92%</span></div>
<div class="r"><span class="n">Copper</span><span class="v">2.6</span><span class="un">mg</span><span class="bar"><i style="width:100%;background:#86dea0"></i></span><span class="p">294%</span></div>
<div class="r"><span class="n">Iron</span><span class="v">20.2</span><span class="un">mg</span><span class="bar"><i style="width:100%;background:#86dea0"></i></span><span class="p">253%</span></div>
<div class="r"><span class="n">Magnesium</span><span class="v">629.1</span><span class="un">mg</span><span class="bar"><i style="width:100%;background:#86dea0"></i></span><span class="p">150%</span></div>
<div class="r"><span class="n">Manganese</span><span class="v">9.8</span><span class="un">mg</span><span class="bar"><i style="width:100%;background:#86dea0"></i></span><span class="p">426%</span></div>
<div class="r"><span class="n">Phosphorus</span><span class="v">2553.6</span><span class="un">mg</span><span class="bar"><i style="width:100%;background:#86dea0"></i></span><span class="p">365%</span></div>
<div class="r"><span class="n">Potassium</span><span class="v">4605.8</span><span class="un">mg</span><span class="bar"><i style="width:100%;background:#86dea0"></i></span><span class="p">135%</span></div>
<div class="r"><span class="n">Selenium</span><span class="v">386.9</span><span class="un">µg</span><span class="bar"><i style="width:100%;background:#86dea0"></i></span><span class="p">703%</span></div>
<div class="r"><span class="n">Sodium</span><span class="v">2671.8</span><span class="un">mg</span><span class="bar"><i style="width:100%;background:#86dea0"></i></span><span class="p">134%</span></div>
<div class="r"><span class="n">Zinc</span><span class="v">14.9</span><span class="un">mg</span><span class="bar"><i style="width:100%;background:#86dea0"></i></span><span class="p">135%</span></div>
</div>

<div class="abs" style="left:600px;top:2559px;font-size:16px;line-height:22px;color:#1f2430">N/T = No Target</div>

</div></body></html>
